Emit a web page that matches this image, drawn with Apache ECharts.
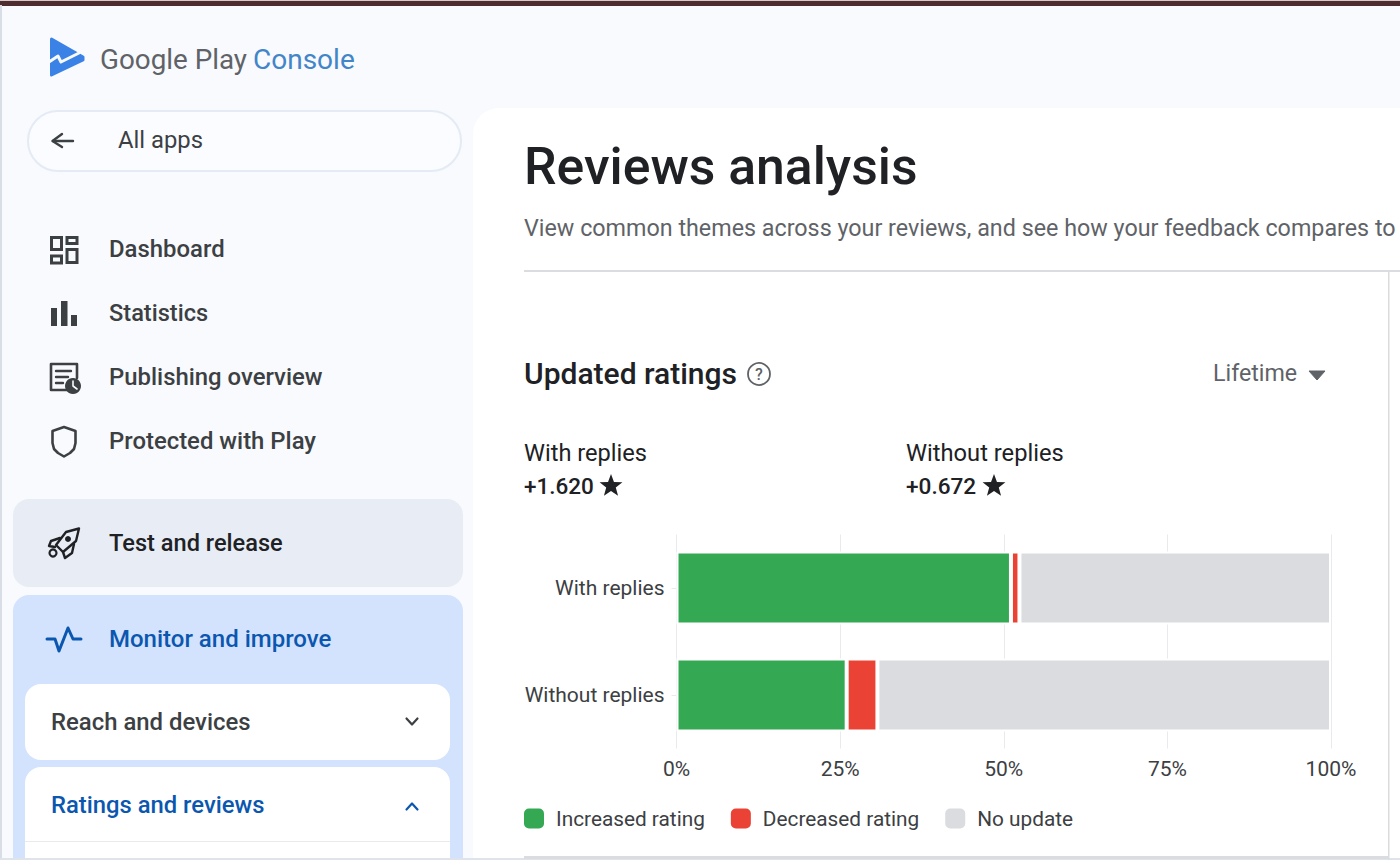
<!DOCTYPE html>
<html>
<head>
<meta charset="utf-8">
<style>html,body{margin:0;padding:0;background:#f8fafe}#c{width:1400px;height:860px}</style>
<script src="https://cdn.jsdelivr.net/npm/echarts@6/dist/echarts.min.js"></script>
</head>
<body>
<div id="c"></div>
<script>
const categories = ['With replies', 'Without replies'];
const increasedRating = [51.1, 26.0];
const decreasedRating = [1.3, 4.7];
const noUpdate = [47.6, 69.3];
const seriesNames = ['Increased rating', 'Decreased rating', 'No update'];
const seriesColors = ['#34a853', '#ea4335', '#dadce0'];
const FONT = 'Roboto, sans-serif';
const DARK = '#3c4043', INK = '#202124', GREY = '#5f6368', BLUE = '#0b57b0';

function t(text, x, y, size, fill, weight, align) {
  return {type:'text', x:x, y:y, silent:true, style:{text:text, fontFamily:FONT, fontSize:size, fontWeight:weight||400, fill:fill, align:align||'left', verticalAlign:'middle'}};
}
function box(x, y, w, h, r, fill, stroke, lw) {
  return {type:'rect', silent:true, shape:{x:x, y:y, width:w, height:h, r:r}, style:{fill:fill, stroke:stroke||null, lineWidth:lw||0}};
}
function line(pts, stroke, lw) {
  return {type:'polyline', silent:true, shape:{points:pts}, style:{fill:null, stroke:stroke, lineWidth:lw, lineJoin:'round', lineCap:'round'}};
}
function solid(pts, fill, stroke, lw) {
  return {type:'polygon', silent:true, shape:{points:pts}, style:{fill:fill, stroke:stroke||fill, lineWidth:lw||1, lineJoin:'round'}};
}
function star(cx, cy, R) {
  const pts = [];
  for (let i = 0; i < 10; i++) {
    const a = -Math.PI/2 + i*Math.PI/5, rr = i%2 ? R*0.42 : R;
    pts.push([cx + rr*Math.cos(a), cy + rr*Math.sin(a)]);
  }
  return {type:'polygon', silent:true, shape:{points:pts}, style:{fill:INK}};
}

const chrome = [
  box(0,0,1400,860,0,'#f8fafe'),
  box(0,0,1400,1,0,'#d9c9c9'),
  box(0,1,1400,5,0,'#4e2c30'),
  box(0,5,2,855,0,'#d9dee6'),
  box(473,108,940,780,[26,0,0,0],'#ffffff'),
  // logo
  solid([[51.5,39],[83,57],[83,60],[51.5,75]],'#3b82e6','#3b82e6',3),
  line([[49,62],[58,56],[61,62],[79,53]],'#f8fafe',3),
  t('Google Play',100,59,27.8,GREY),
  t('Console',253,59,28,'#4285c8'),
  // back pill
  box(28,111,433,60,30,'#fafcff','#e4ebf4',2),
  line([[73,141],[53,141]],DARK,2.4),
  line([[62,134],[52.5,141],[62,147]],DARK,2.4),
  t('All apps',118,140,23.8,DARK),
  // dashboard
  box(51.5,237.5,10,12,0,null,DARK,3), box(51.5,256,10,7,0,null,DARK,3),
  box(67,237.5,10,6,0,null,DARK,3), box(67,249.5,10,13,0,null,DARK,3),
  t('Dashboard',109,249,23.9,DARK,500),
  // statistics
  box(51,308,6,18,0,DARK), box(61,301,6.5,25,0,DARK), box(71,315,6,11,0,DARK),
  t('Statistics',109,313,23.6,DARK,500),
  // publishing
  line([[67,390],[51,390],[51,364],[77,364],[77,378]],DARK,2.6),
  line([[56,371],[71,371]],DARK,2.4), line([[56,377],[68,377]],DARK,2.4), line([[56,383],[63,383]],DARK,2.4),
  {type:'circle',silent:true,shape:{cx:73,cy:386,r:8},style:{fill:DARK}},
  line([[73,381],[73,386],[77,389]],'#f8fafe',1.6),
  t('Publishing overview',109,377,23.9,DARK,500),
  // shield
  line([[64,427],[75.5,431],[75.5,443],[74,449],[70,453],[64,456.5],[58,453],[54,449],[52.5,443],[52.5,431],[64,427]],DARK,2.6),
  t('Protected with Play',109,441,23.9,DARK,500),
  // test and release
  box(13,499,450,88,16,'#e8edf5'),
  line([[79,528.5],[66,532],[56,545],[63,552],[76,541],[79,528.5]],INK,2.4),
  line([[60,538],[51,541],[49,546],[55,547]],INK,2.4),
  line([[74,544],[72,553],[65,558],[63,552]],INK,2.4),
  {type:'circle',silent:true,shape:{cx:53,cy:553,r:3.5},style:{fill:null,stroke:INK,lineWidth:2.2}},
  {type:'circle',silent:true,shape:{cx:68,cy:539,r:3},style:{fill:INK}},
  t('Test and release',109,543,23.6,INK,500),
  // monitor and improve
  box(13,595,450,280,16,'#d3e3fd'),
  line([[47,639],[55,639],[59,651],[68,628],[73,639],[81,639]],BLUE,3),
  t('Monitor and improve',109,639,24,BLUE,500),
  box(25,684,425,76,16,'#ffffff'),
  t('Reach and devices',51,722,23.9,DARK,500),
  line([[406.5,718.5],[412,724.5],[417.5,718.5]],DARK,2.2),
  box(25,767,425,110,16,'#ffffff'),
  t('Ratings and reviews',51,805,23.8,BLUE,500),
  line([[406.5,809.5],[412,803.5],[417.5,809.5]],BLUE,2.2),
  box(25,841,425,1,0,'#e8eaed'),
  box(0,858,1400,2,0,'#dfe3ea'),
  // main panel
  t('Reviews analysis',524,166,51.7,INK,500),
  t('View common themes across your reviews, and see how your feedback compares to',524,228,23.3,GREY),
  box(524,270,876,2,0,'#dadce0'),
  box(1388,271,1.5,589,0,'#dadce0'),
  {type:'circle',silent:true,shape:{cx:759,cy:374,r:11},style:{fill:null,stroke:GREY,lineWidth:1.8}},
  t('?',759,374,16,GREY,500,'center'),
  t('Lifetime',1213,373,23.2,GREY),
  solid([[1309,371],[1325,371],[1317,380]],GREY),
  t('With replies',524,453,23.6,INK),
  t('+1.620',524,486,22.5,INK,500),
  star(611,486,12),
  t('Without replies',906,453,23.7,INK),
  t('+0.672',906,486,22.6,INK,500),
  star(994,486,12),
  box(524,856,864,3,0,'#dadce0')
];

const chart = echarts.init(document.getElementById('c'), null, {renderer:'svg', width:1400, height:860});
const barStyle = {borderColor:'#ffffff', borderWidth:2};
function makeSeries(i, values) {
  return {name:seriesNames[i], type:'bar', stack:'total', data:values, barWidth:73, itemStyle:Object.assign({color:seriesColors[i]}, barStyle)};
}
chart.setOption({
  animation:false,
  backgroundColor:'transparent',
  title:{text:'Updated ratings', left:524, top:358, padding:0, textStyle:{fontFamily:FONT, fontSize:30, fontWeight:500, color:INK}},
  grid:{left:676.5, top:534.5, width:654.5, height:214, containLabel:false},
  xAxis:{type:'value', min:0, max:100, interval:25,
    axisLine:{show:false}, axisTick:{show:false},
    axisLabel:{formatter:'{value}%', fontFamily:FONT, fontSize:21, color:DARK, margin:10, showMinLabel:true, showMaxLabel:true},
    splitLine:{show:true, lineStyle:{color:'#e8eaed', width:1}}},
  yAxis:{type:'category', inverse:true, data:categories,
    axisLine:{show:false}, axisTick:{show:true, alignWithLabel:true, length:5, lineStyle:{color:'#e8eaed'}},
    axisLabel:{fontFamily:FONT, fontSize:21, color:DARK, margin:12}},
  legend:{left:524, top:808, padding:0, itemWidth:20, itemHeight:20, itemGap:26, icon:'roundRect',
    data:seriesNames, selectedMode:false, itemStyle:{borderWidth:0},
    textStyle:{fontFamily:FONT, fontSize:20.8, color:DARK, padding:[0,0,0,7]}},
  series:[makeSeries(0,increasedRating), makeSeries(1,decreasedRating), makeSeries(2,noUpdate)],
  graphic:{z:-1, elements:chrome}
});
</script>
</body>
</html>
